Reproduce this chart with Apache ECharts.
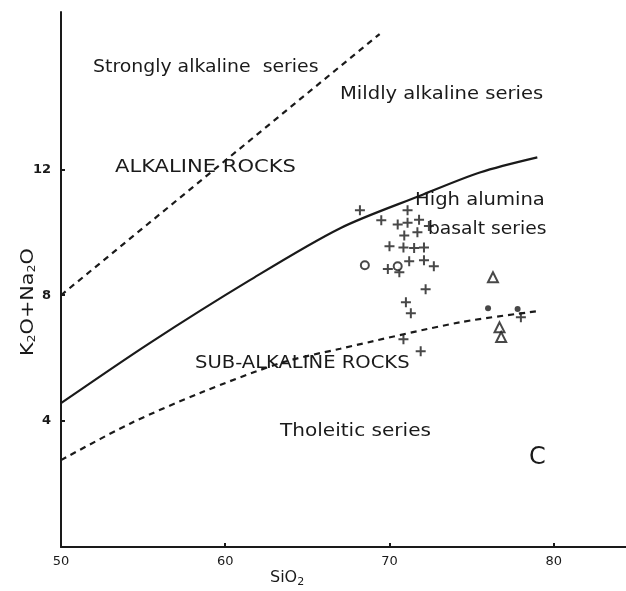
<!DOCTYPE html>
<html>
<head>
<meta charset="utf-8">
<script src="https://cdn.jsdelivr.net/npm/echarts@6/dist/echarts.min.js"></script>
<style>html,body{margin:0;padding:0;background:#fff}#c{width:626px;height:591px}</style>
</head>
<body>
<div id="c"></div>
<script>
// Boundary lines [SiO2, K2O+Na2O]
var strongAlkBoundary = [[50, 8.0], [69.4, 16.3]];
var alkSubalkBoundary = [[50, 4.57], [55.4, 6.48], [61.5, 8.48], [67.0, 10.13], [71.9, 11.17], [75.5, 11.9], [79.0, 12.38]];
var tholeiiticBoundary = [[50, 2.76], [54.2, 3.92], [58.5, 4.9], [63.4, 5.85], [67.0, 6.3], [74.3, 7.14], [79.0, 7.49]];

// Samples
var crossSamples = [
  [68.2, 10.7], [71.1, 10.7], [69.5, 10.38], [70.5, 10.25], [71.1, 10.3], [71.8, 10.4], [72.4, 10.2],
  [70.9, 9.9], [71.7, 10.0], [70.0, 9.56], [70.85, 9.52], [71.5, 9.5], [72.1, 9.52],
  [69.9, 8.83], [70.6, 8.73], [71.2, 9.08], [72.1, 9.11], [72.7, 8.92],
  [72.2, 8.19], [71.0, 7.78], [71.3, 7.43], [70.85, 6.6], [71.9, 6.22], [78.0, 7.3]
];
var circleSamples = [[68.5, 8.95], [70.5, 8.92]];
var triangleSamples = [[76.3, 8.57], [76.7, 6.98], [76.8, 6.67]];
var dotSamples = [[76.0, 7.59], [77.8, 7.56]];

var xTicks = [50, 60, 70, 80];
var yTicks = [4, 8, 12];

var chart = echarts.init(document.getElementById('c'));
var ink = '#1a1a1a';
var font = 'DejaVu Sans';
var plusPath = 'path://M4,0h2v4h4v2h-4v4h-2v-4h-4v-2h4z';

function txt(text, x, y, sx, size) {
  return {
    type: 'text', x: x, y: y, scaleX: sx || 1.15,
    style: { text: text, fill: ink, font: (size || 17) + 'px "' + font + '"', verticalAlign: 'middle', align: 'left' }
  };
}
var subRich = { s: { fontSize: 11, fontFamily: font, fill: ink, color: ink, padding: [9, 0, 0, 0] } };

chart.setOption({
  backgroundColor: '#fff',
  animation: false,
  grid: { left: 61, right: 0, top: 12, bottom: 44 },
  xAxis: {
    type: 'value', min: 50, max: 84.4,
    splitLine: { show: false },
    axisLine: { lineStyle: { color: ink, width: 2 } },
    axisTick: { inside: true, length: 4, customValues: xTicks, lineStyle: { color: ink, width: 2 } },
    axisLabel: { customValues: xTicks, color: ink, fontFamily: font, fontSize: 13, margin: 8 }
  },
  yAxis: {
    type: 'value', min: 0, max: 17,
    splitLine: { show: false },
    axisLine: { lineStyle: { color: ink, width: 2 } },
    axisTick: { inside: true, length: 4, customValues: yTicks, lineStyle: { color: ink, width: 2 } },
    axisLabel: { customValues: yTicks, color: ink, fontFamily: font, fontSize: 13, fontWeight: 'bold', margin: 10 }
  },
  series: [
    { type: 'line', data: strongAlkBoundary, symbol: 'none', lineStyle: { color: ink, width: 2.2, type: [6, 5] } },
    { type: 'line', data: alkSubalkBoundary, symbol: 'none', smooth: 0.3, lineStyle: { color: ink, width: 2.2 } },
    { type: 'line', data: tholeiiticBoundary, symbol: 'none', smooth: 0.3, lineStyle: { color: ink, width: 2.2, type: [6, 5] } },
    { type: 'scatter', data: crossSamples, symbol: plusPath, symbolSize: 10, itemStyle: { color: ink } },
    { type: 'scatter', data: circleSamples, symbol: 'circle', symbolSize: 8, itemStyle: { color: '#fff', borderColor: ink, borderWidth: 2 } },
    { type: 'scatter', data: triangleSamples, symbol: 'triangle', symbolSize: 10, itemStyle: { color: '#fff', borderColor: ink, borderWidth: 2 } },
    { type: 'scatter', data: dotSamples, symbol: 'circle', symbolSize: 6, itemStyle: { color: ink } }
  ],
  graphic: [
    txt('Strongly alkaline  series', 93, 68, 1.11),
    txt('Mildly alkaline series', 340, 95, 1.15),
    txt('ALKALINE ROCKS', 115, 168, 1.24),
    txt('High alumina', 415, 201, 1.15),
    txt('basalt series', 428, 230, 1.1),
    txt('SUB-ALKALINE ROCKS', 195, 364, 1.15),
    txt('Tholeitic series', 280, 432, 1.18),
    txt('C', 529, 458, 1.0, 24),
    {
      type: 'text', x: 270, y: 578,
      style: { text: 'SiO{s|2}', fill: ink, font: '16px "' + font + '"', verticalAlign: 'middle', rich: subRich }
    },
    {
      type: 'text', x: 28, y: 356, rotation: Math.PI / 2, scaleX: 1.15,
      style: { text: 'K{s|2}O+Na{s|2}O', fill: ink, font: '18px "' + font + '"', verticalAlign: 'middle', rich: subRich }
    }
  ]
});
</script>
</body>
</html>
